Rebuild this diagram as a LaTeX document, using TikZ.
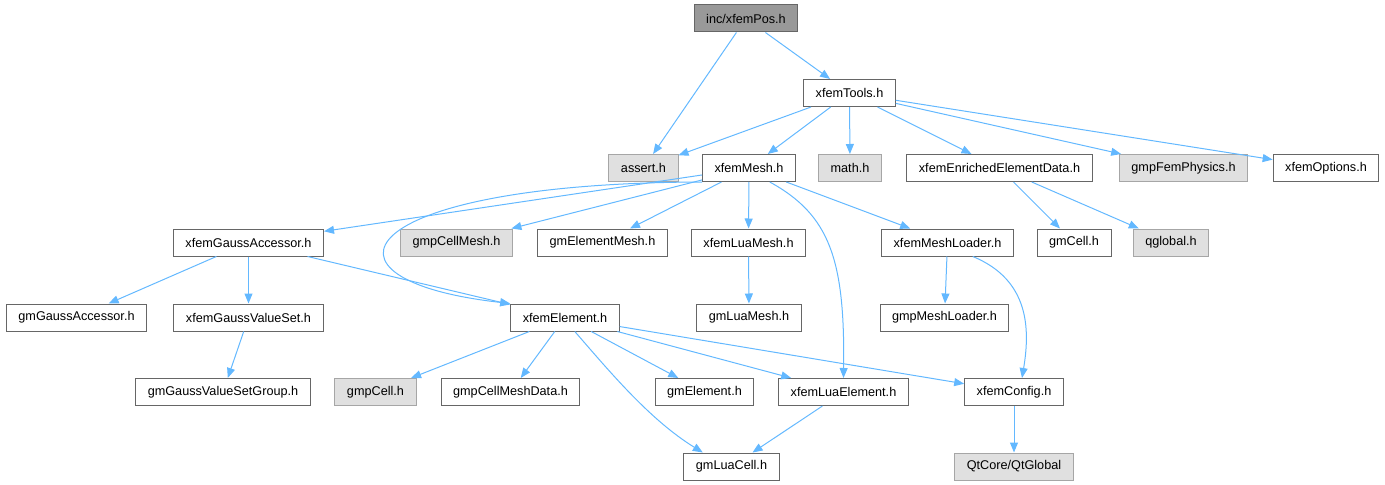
\documentclass[tikz,border=0pt]{standalone}
\usepackage{fontspec}
\setmainfont{Liberation Sans}
\usetikzlibrary{arrows.meta}
\definecolor{edgeblue}{HTML}{63B8FF}
\begin{document}
\begin{tikzpicture}[x=0.75pt,y=-0.75pt,
    file/.style={draw=black!60, fill=white, line width=0.75pt, inner xsep=9pt,
      inner ysep=0pt, minimum height=20.25pt, font=\fontsize{9.5}{11}\selectfont},
    sys/.style={file, draw=black!35, fill=black!12},
    root/.style={file, fill=black!40},
    dep/.style={draw=edgeblue, line width=0.75pt, -{Triangle[length=7.5pt,width=6pt]}}]
  \useasboundingbox (0,0) rectangle (1385,485);
  % nodes, row by row
  \node [root] (pos) at (746,18.5) {inc/xfemPos.h};
  \node [file] (tools) at (849.5,93) {xfemTools.h};
  \node [sys] (assert) at (643.5,168) {assert.h};
  \node [file] (mesh) at (749,168) {xfemMesh.h};
  \node [sys] (math) at (850,168) {math.h};
  \node [file] (enriched) at (999.5,168) {xfemEnrichedElementData.h};
  \node [sys] (femphys) at (1183.5,168) {gmpFemPhysics.h};
  \node [file] (options) at (1326,168) {xfemOptions.h};
  \node [file] (gaussacc) at (248.5,242.5) {xfemGaussAccessor.h};
  \node [sys] (cellmesh) at (456.5,242.5) {gmpCellMesh.h};
  \node [file] (elemmesh) at (602.5,242.5) {gmElementMesh.h};
  \node [file] (luamesh) at (748.5,242.5) {xfemLuaMesh.h};
  \node [file] (meshloader) at (947.5,242.5) {xfemMeshLoader.h};
  \node [file] (gmcell) at (1074,242.5) {gmCell.h};
  \node [sys] (qglobal) at (1171,242.5) {qglobal.h};
  \node [file] (gmgaussacc) at (76.5,317.5) {gmGaussAccessor.h};
  \node [file] (gaussvs) at (248.5,317.5) {xfemGaussValueSet.h};
  \node [file] (element) at (565,317.5) {xfemElement.h};
  \node [file] (gmluamesh) at (749,317.5) {gmLuaMesh.h};
  \node [file] (gmploader) at (944.5,317.5) {gmpMeshLoader.h};
  \node [file] (vsgroup) at (223,392) {gmGaussValueSetGroup.h};
  \node [sys] (gmpcell) at (375.5,392) {gmpCell.h};
  \node [file] (meshdata) at (510.5,392) {gmpCellMeshData.h};
  \node [file] (gmelement) at (704.5,392) {gmElement.h};
  \node [file] (luaelement) at (843.5,392) {xfemLuaElement.h};
  \node [file] (config) at (1014,392) {xfemConfig.h};
  \node [file] (luacell) at (731.5,466.5) {gmLuaCell.h};
  \node [sys] (qtglobal) at (1014,466.5) {QtCore/QtGlobal};
  % include edges
  \draw [dep] (pos) -- (tools);
  \draw [dep] (pos) -- (assert);
  \draw [dep] (tools) -- (assert);
  \draw [dep] (tools) -- (mesh);
  \draw [dep] (tools) -- (math);
  \draw [dep] (tools) -- (enriched);
  \draw [dep] (tools) -- (femphys);
  \draw [dep] (tools) -- (options);
  \draw [dep] (mesh) -- (gaussacc);
  \draw [dep] (mesh) -- (cellmesh);
  \draw [dep] (mesh) -- (elemmesh);
  \draw [dep] (mesh) -- (luamesh);
  \draw [dep] (mesh) -- (meshloader);
  \draw [dep] (mesh.south west) .. controls (350,183) and (300,280) .. (element.north west);
  \draw [dep] (mesh.-34) .. controls (830,215) and (845,260) .. (luaelement.north);
  \draw [dep] (enriched) -- (gmcell);
  \draw [dep] (enriched) -- (qglobal);
  \draw [dep] (gaussacc) -- (gmgaussacc);
  \draw [dep] (gaussacc) -- (gaussvs);
  \draw [dep] (gaussacc) -- (element);
  \draw [dep] (gaussvs) -- (vsgroup);
  \draw [dep] (luamesh) -- (gmluamesh);
  \draw [dep] (meshloader) -- (gmploader);
  \draw [dep] (meshloader.-29) .. controls (1030,280) and (1030,330) .. ([xshift=6pt]config.north);
  \draw [dep] (element) -- (gmpcell);
  \draw [dep] (element) -- (meshdata);
  \draw [dep] (element) -- (gmelement);
  \draw [dep] (element) -- (luaelement);
  \draw [dep] (element) -- (config);
  \draw [dep] (element.-55) .. controls (610,372) and (650,420) .. (luacell.154);
  \draw [dep] (luaelement) -- (luacell);
  \draw [dep] (config) -- (qtglobal);
\end{tikzpicture}
\end{document}
